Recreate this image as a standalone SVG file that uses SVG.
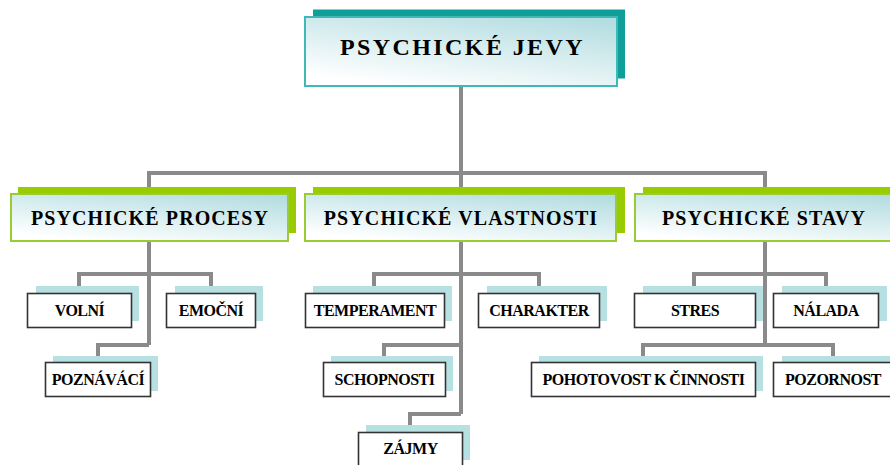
<svg xmlns="http://www.w3.org/2000/svg" width="890" height="465" viewBox="0 0 890 465" font-family="Liberation Serif, Times New Roman, serif" font-weight="bold">
<style>
text{fill:#000;text-anchor:middle}
.t1{font-size:24px;letter-spacing:2.4px}
.t2{font-size:20px;letter-spacing:1.1px}
.t3{font-size:16px;letter-spacing:-0.5px}
.sh1{fill:#0f9e9a}
.b1{fill:url(#g);stroke:#3fb9b6;stroke-width:2}
.sh2{fill:#99cc00}
.b2{fill:url(#g);stroke:#99cc33;stroke-width:2}
.sh3{fill:#b7e0e3}
.b3{fill:#fff;stroke:#333;stroke-width:1.6}
.c{fill:none;stroke:#8a8a8a;stroke-width:4}
</style>
<defs>
<linearGradient id="g" x1="0.3" y1="1" x2="0.85" y2="0">
<stop offset="0" stop-color="#ffffff"/>
<stop offset="1" stop-color="#b4dde1"/>
</linearGradient>
</defs>
<rect width="890" height="465" fill="#fff"/>
<g id="connectors">
<path class="c" d="M461,86 V190"/>
<path class="c" d="M149,190 V173 H765 V190"/>
<path class="c" d="M149,242 V345"/>
<path class="c" d="M79,287 V274 H211 V287"/>
<path class="c" d="M98,357 V345 H149"/>
<path class="c" d="M461,242 V414"/>
<path class="c" d="M374,287 V274 H539 V287"/>
<path class="c" d="M384,357 V345 H461"/>
<path class="c" d="M410,426 V414 H461"/>
<path class="c" d="M765,242 V345"/>
<path class="c" d="M694,287 V274 H826 V287"/>
<path class="c" d="M643,357 V345 H833 V357"/>
</g>
<g id="psychicke-jevy">
<rect class="sh1" x="313" y="9.5" width="312" height="69"/>
<rect class="b1" x="305" y="17" width="312" height="69"/>
<text class="t1" x="462.5" y="55">PSYCHICKÉ JEVY</text>
</g>
<g id="psychicke-procesy">
<rect class="sh2" x="18" y="187" width="278" height="46"/>
<rect class="b2" x="11" y="194" width="277" height="47"/>
<text class="t2" x="150" y="225">PSYCHICKÉ PROCESY</text>
</g>
<g id="psychicke-vlastnosti">
<rect class="sh2" x="313" y="187" width="312" height="46"/>
<rect class="b2" x="305" y="194" width="311" height="47"/>
<text class="t2" x="461" y="225">PSYCHICKÉ VLASTNOSTI</text>
</g>
<g id="psychicke-stavy">
<rect class="sh2" x="643" y="187" width="260" height="46"/>
<rect class="b2" x="635" y="194" width="265" height="47"/>
<text class="t2" x="764" y="225">PSYCHICKÉ STAVY</text>
</g>
<g id="volni">
<rect class="sh3" x="36" y="286" width="103" height="35"/>
<rect class="b3" x="27.5" y="293.5" width="104" height="34"/>
<text class="t3" x="79.5" y="316">VOLNÍ</text>
</g>
<g id="emocni">
<rect class="sh3" x="175" y="286" width="88" height="35"/>
<rect class="b3" x="166.5" y="293.5" width="89" height="34"/>
<text class="t3" x="211" y="316">EMOČNÍ</text>
</g>
<g id="poznavaci">
<rect class="sh3" x="53" y="356" width="105" height="35"/>
<rect class="b3" x="45.5" y="362.5" width="105" height="34"/>
<text class="t3" x="98" y="385">POZNÁVÁCÍ</text>
</g>
<g id="temperament">
<rect class="sh3" x="313" y="286" width="139" height="35"/>
<rect class="b3" x="305.5" y="293.5" width="139" height="34"/>
<text class="t3" x="375" y="316">TEMPERAMENT</text>
</g>
<g id="charakter">
<rect class="sh3" x="487" y="286" width="120" height="35"/>
<rect class="b3" x="478.5" y="293.5" width="121" height="34"/>
<text class="t3" x="539" y="316">CHARAKTER</text>
</g>
<g id="schopnosti">
<rect class="sh3" x="331" y="356" width="122" height="35"/>
<rect class="b3" x="323.5" y="362.5" width="122" height="34"/>
<text class="t3" x="384.5" y="385">SCHOPNOSTI</text>
</g>
<g id="zajmy">
<rect class="sh3" x="366" y="425" width="104" height="35"/>
<rect class="b3" x="358.5" y="432.5" width="104" height="34"/>
<text class="t3" x="410.5" y="454">ZÁJMY</text>
</g>
<g id="stres">
<rect class="sh3" x="643" y="286" width="120" height="35"/>
<rect class="b3" x="634.5" y="293.5" width="121" height="34"/>
<text class="t3" x="695" y="316">STRES</text>
</g>
<g id="nalada">
<rect class="sh3" x="782" y="286" width="105" height="35"/>
<rect class="b3" x="773.5" y="293.5" width="105" height="34"/>
<text class="t3" x="826" y="316">NÁLADA</text>
</g>
<g id="pohotovost">
<rect class="sh3" x="539" y="356" width="224" height="35"/>
<rect class="b3" x="531.5" y="362.5" width="224" height="34"/>
<text class="t3" x="643.5" y="385">POHOTOVOST K ČINNOSTI</text>
</g>
<g id="pozornost">
<rect class="sh3" x="782" y="356" width="120" height="35"/>
<rect class="b3" x="773.5" y="362.5" width="120" height="34"/>
<text class="t3" x="833" y="385">POZORNOST</text>
</g>
</svg>
